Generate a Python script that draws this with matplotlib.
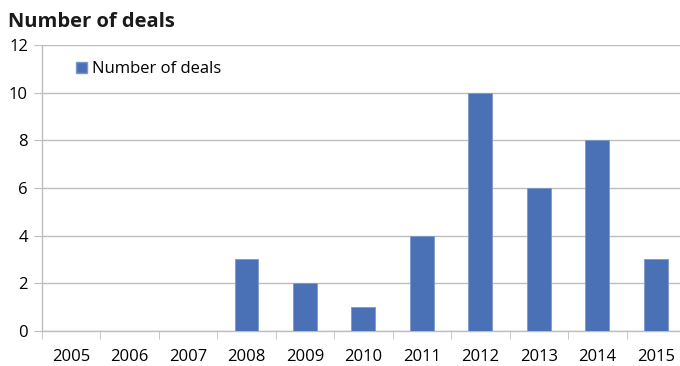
import numpy as np
import matplotlib.pyplot as plt
from matplotlib.patches import Patch

years = ['2005', '2006', '2007', '2008', '2009', '2010',
         '2011', '2012', '2013', '2014', '2015']
deals = [0, 0, 0, 3, 2, 1, 4, 10, 6, 8, 3]

plt.rcParams['font.family'] = ['Open Sans', 'DejaVu Sans']

fig = plt.figure(figsize=(6.8, 3.66), dpi=100)
ax = fig.add_axes([0.0615, 0.096, 0.946, 0.781])

x = np.arange(len(years))
bar_color = '#4A70B6'
ax.bar(x, deals, width=0.41, color=bar_color, edgecolor='#7C98CC',
       linewidth=0.6, zorder=3)

ax.set_xlim(-0.5, len(years) - 0.5)
ax.set_ylim(0, 12)
ax.set_yticks(range(0, 13, 2))
ax.yaxis.grid(True, color='#BDBDBD', linewidth=1.0, zorder=0)

# category labels centred, tick marks on the boundaries
ax.set_xticks(x)
ax.set_xticklabels(years, fontsize=12)
ax.tick_params(axis='x', length=0, pad=13)
ax.set_xticks(np.arange(-0.5, len(years), 1), minor=True)
ax.tick_params(axis='x', which='minor', length=6, color='#BDBDBD',
               direction='out')
ax.tick_params(axis='y', labelsize=12, length=6, color='#BDBDBD', pad=4)

for side in ['top', 'right']:
    ax.spines[side].set_visible(False)
for side in ['left', 'bottom']:
    ax.spines[side].set_color('#BDBDBD')
    ax.spines[side].set_linewidth(1.0)

fig.text(0.012, 0.925, 'Number of deals', fontsize=14.5, fontweight='bold',
         color='#1A1A1A')

handle = Patch(facecolor=bar_color, edgecolor='#7C98CC')
ax.legend([handle], ['Number of deals'], loc='upper left',
          bbox_to_anchor=(0.03, 0.995), frameon=False, fontsize=12,
          handlelength=0.65, handleheight=0.65, handletextpad=0.3)

fig.savefig('out.png', dpi=100)
